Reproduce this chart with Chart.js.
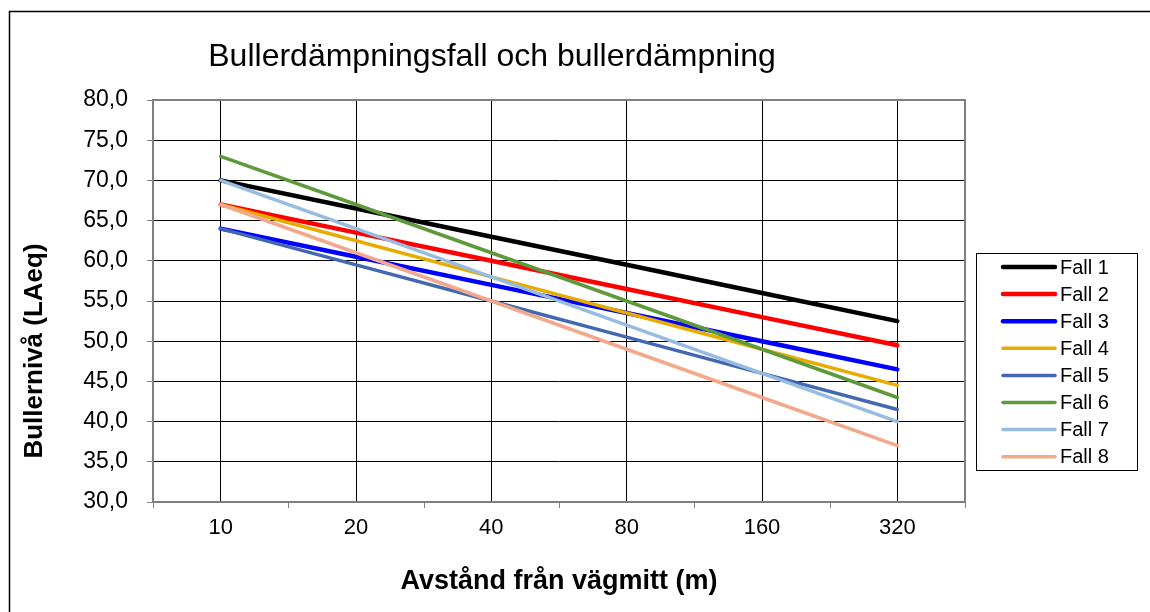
<!DOCTYPE html>
<html>
<head>
<meta charset="utf-8">
<script src="https://cdn.jsdelivr.net/npm/chart.js@4.4.1/dist/chart.umd.min.js"></script>
<style>
	html, body { margin: 0; padding: 0; background: #fff; }
</style>
</head>
<body>
<canvas id="mycanvas" width="1150" height="612"></canvas>
<script>
var avstand = ["10", "20", "40", "80", "160", "320"];

var fall1 = [70.0, 66.5, 63.0, 59.5, 56.0, 52.5];
var fall2 = [67.0, 63.5, 60.0, 56.5, 53.0, 49.5];
var fall3 = [64.0, 60.5, 57.0, 53.5, 50.0, 46.5];
var fall4 = [67.0, 62.5, 58.0, 53.5, 49.0, 44.5];
var fall5 = [64.0, 59.5, 55.0, 50.5, 46.0, 41.5];
var fall6 = [73.0, 67.0, 61.0, 55.0, 49.0, 43.0];
var fall7 = [70.0, 64.0, 58.0, 52.0, 46.0, 40.0];
var fall8 = [67.0, 61.0, 55.0, 49.0, 43.0, 37.0];

var seriesNames = ["Fall 1", "Fall 2", "Fall 3", "Fall 4", "Fall 5", "Fall 6", "Fall 7", "Fall 8"];
var seriesColors = ["#000000", "#ff0000", "#0000ff", "#e6ac00", "#4168b0", "#5e9a3c", "#98bbe2", "#f2a98b"];
var seriesWidths = [4.5, 4.5, 4.5, 3.5, 3.5, 3.5, 3.5, 3.5];

var yMin = 30, yMax = 80, yStep = 5;

var chartTitle = "Bullerdämpningsfall och bullerdämpning";
var yTitle = "Bullernivå (LAeq)";
var xTitle = "Avstånd från vägmitt (m)";

var fontFamily = "'Liberation Sans', Arial, sans-serif";
var axisGrey = "#808080";

var allSeries = [fall1, fall2, fall3, fall4, fall5, fall6, fall7, fall8];
var datasets = [];
for (var i in allSeries) {
	datasets.push({
		label: seriesNames[i],
		data: allSeries[i],
		borderColor: seriesColors[i],
		backgroundColor: seriesColors[i],
		borderWidth: seriesWidths[i],
		borderCapStyle: "round",
		pointRadius: 0,
		pointHoverRadius: 0,
		fill: false,
		tension: 0,
		order: allSeries.length - i
	});
}

// frame, title, legend and category tick marks the way Excel draws them
var excelBits = {
	id: "excelBits",
	beforeDraw: function(chart) {
		var c = chart.ctx;
		c.save();
		c.fillStyle = "#fff";
		c.fillRect(0, 0, chart.width, chart.height);
		c.strokeStyle = "#000";
		c.lineWidth = 1.5;
		c.beginPath();
		c.moveTo(9.5, chart.height);
		c.lineTo(9.5, 11.5);
		c.lineTo(chart.width, 11.5);
		c.stroke();
		c.restore();
	},
	beforeDatasetsDraw: function(chart) {
		var c = chart.ctx, a = chart.chartArea, xs = chart.scales.x;
		c.save();
		c.strokeStyle = axisGrey;
		c.lineWidth = 2;
		c.beginPath();
		c.moveTo(a.left, a.top);
		c.lineTo(a.right, a.top);
		c.lineTo(a.right, a.bottom);
		c.stroke();
		// tick marks between categories
		var n = avstand.length;
		c.lineWidth = 1;
		c.beginPath();
		for (var k = 0; k <= n; k++) {
			var px = Math.round(xs.left + k * (xs.width / n)) + 0.5;
			c.moveTo(px, a.bottom);
			c.lineTo(px, a.bottom + 6);
		}
		c.stroke();
		c.restore();
	},
	afterDraw: function(chart) {
		var c = chart.ctx;
		c.save();
		c.fillStyle = "#000";
		c.textBaseline = "middle";
		c.textAlign = "center";
		c.font = "32px " + fontFamily;
		c.fillText(chartTitle, 492, 57);

		c.save();
		c.translate(35, 351);
		c.rotate(-Math.PI / 2);
		c.font = "bold 26px " + fontFamily;
		c.fillText(yTitle, 0, 0);
		c.restore();

		// legend
		var lx = 976, ly = 253, lw = 161, lh = 217;
		c.fillStyle = "#fff";
		c.fillRect(lx, ly, lw, lh);
		c.strokeStyle = "#000";
		c.lineWidth = 1;
		c.strokeRect(lx + 0.5, ly + 0.5, lw, lh);
		c.textAlign = "left";
		c.font = "20px " + fontFamily;
		for (var k = 0; k < seriesNames.length; k++) {
			var ry = ly + 14 + k * 27.1;
			c.strokeStyle = seriesColors[k];
			c.lineWidth = seriesWidths[k];
			c.lineCap = "round";
			c.beginPath();
			c.moveTo(1003, ry);
			c.lineTo(1055, ry);
			c.stroke();
			c.fillStyle = "#000";
			c.fillText(seriesNames[k], 1060, ry + 1);
		}
		c.restore();
	}
};

var ctx = document.getElementById("mycanvas");

var LineGraph = new Chart(ctx, {
	type: "line",
	data: {
		labels: avstand,
		datasets: datasets
	},
	options: {
		responsive: false,
		animation: false,
		layout: {
			padding: { left: 10, right: 185, top: 100, bottom: 10 }
		},
		plugins: {
			legend: { display: false },
			title: { display: false },
			tooltip: { enabled: false }
		},
		scales: {
			x: {
				type: "category",
				offset: true,
				grid: {
					offset: false,
					color: "#000",
					lineWidth: 1,
					drawTicks: false
				},
				border: { color: axisGrey, width: 2 },
				ticks: {
					color: "#000",
					padding: 13,
					font: { family: fontFamily, size: 22 }
				},
				title: {
					display: true,
					text: xTitle,
					color: "#000",
					padding: { top: 0, bottom: 4 },
					font: { family: fontFamily, size: 27, weight: "bold" }
				},
				afterFit: function(scale) { scale.height = 100; }
			},
			y: {
				min: yMin,
				max: yMax,
				grid: {
					color: function(c) { return c.tick && c.tick.value === yMax ? axisGrey : "#000"; },
					lineWidth: 1,
					drawTicks: true,
					tickLength: 6,
					tickColor: axisGrey
				},
				border: { color: axisGrey, width: 2 },
				ticks: {
					stepSize: yStep,
					color: "#000",
					padding: 19,
					font: { family: fontFamily, size: 23 },
					callback: function(v) { return v.toFixed(1).replace(".", ","); }
				},
				afterFit: function(scale) { scale.width = 143; }
			}
		}
	},
	plugins: [excelBits]
});
</script>
</body>
</html>
